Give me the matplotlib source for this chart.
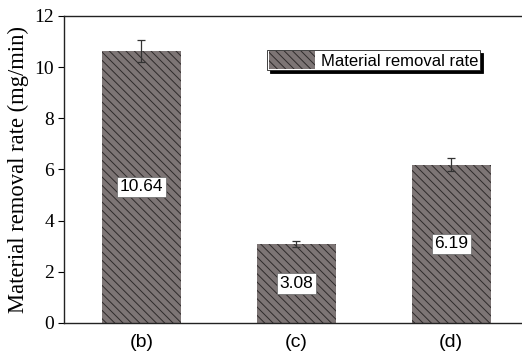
import numpy as np
import matplotlib.pyplot as plt

# removal rate per sample, mg/min
samples = ['(b)', '(c)', '(d)']
rates = [10.64, 3.08, 6.19]
errors = [0.42, 0.12, 0.25]

plt.rcParams['hatch.linewidth'] = 0.7

fig = plt.figure(figsize=(5.22, 3.6), dpi=100)
ax = fig.add_axes([0.1226, 0.1028, 0.89, 0.8528])

x = np.arange(len(samples))
bars = ax.bar(x, rates, width=0.51, color='#7d7575', edgecolor='#2e2a2a',
              linewidth=0, hatch='\\\\\\\\', label='Material removal rate')
ax.errorbar(x, rates, yerr=errors, fmt='none', ecolor='#333333',
            elinewidth=0.9, capsize=3, capthick=0.9)

for xi, r in zip(x, rates):
    ax.text(xi, r / 2, '%.2f' % r, ha='center', va='center',
            fontsize=12.5, family='Liberation Sans',
            bbox=dict(boxstyle='square,pad=0.15', fc='white', ec='#666666', lw=0.5))

ax.set_xlim(-0.5, 2.5)
ax.set_ylim(0, 12)
ax.set_yticks([0, 2, 4, 6, 8, 10, 12])
ax.set_xticks(x)
ax.set_xticklabels(samples, family='Liberation Sans', fontsize=14)
for lab in ax.get_yticklabels():
    lab.set_family('Liberation Serif')
    lab.set_fontsize(14)
ax.tick_params(axis='x', length=0, pad=8)
ax.tick_params(axis='y', length=4, width=0.8, direction='out', pad=3)
ax.set_ylabel('Material removal rate (mg/min)', family='Liberation Serif',
              fontsize=16.3, labelpad=4)

for s in ax.spines.values():
    s.set_linewidth(1.0)
    s.set_color('#222222')

leg = ax.legend(loc='upper left', bbox_to_anchor=(0.437, 0.89),
                prop={'family': 'Liberation Sans', 'size': 12},
                frameon=True, fancybox=False,
                shadow={'color': 'black', 'alpha': 1.0},
                borderpad=0.1, handlelength=2.8, handleheight=1.2,
                handletextpad=0.35, borderaxespad=0)
leg.get_frame().set_edgecolor('#222222')
leg.get_frame().set_linewidth(0.6)

fig.savefig('out.png', dpi=100)
